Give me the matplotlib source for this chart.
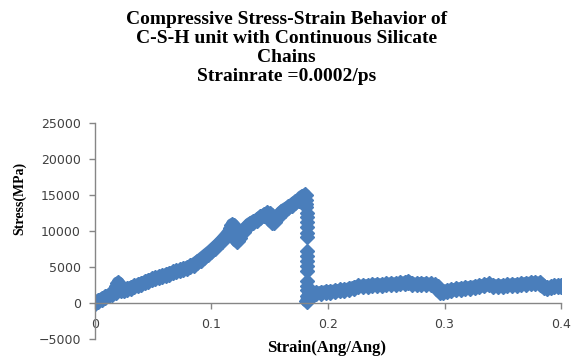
import matplotlib.pyplot as plt
import numpy as np

# rising branch before failure
pre_strain = [0.000, 0.003, 0.006, 0.009, 0.012, 0.015, 0.018, 0.019, 0.020, 0.021,
              0.022, 0.025, 0.028, 0.031, 0.034, 0.037, 0.040, 0.043, 0.046, 0.049,
              0.052, 0.055, 0.058, 0.061, 0.064, 0.067, 0.070, 0.073, 0.076, 0.079,
              0.082, 0.085, 0.088, 0.091, 0.094, 0.097, 0.100, 0.103, 0.106, 0.109,
              0.112, 0.115, 0.117, 0.118, 0.119, 0.1205, 0.122, 0.124, 0.127, 0.130,
              0.133, 0.136, 0.139, 0.142, 0.145, 0.148, 0.150, 0.152, 0.154, 0.157,
              0.160, 0.163, 0.166, 0.169, 0.172, 0.175, 0.178, 0.180]
pre_stress = [0, 300, 550, 800, 1050, 1250, 1500, 2300, 2800, 2400,
              1800, 1850, 2000, 2150, 2350, 2500, 2700, 2900, 3100, 3300,
              3450, 3600, 3750, 3900, 4100, 4250, 4400, 4550, 4700, 4900,
              5100, 5350, 5700, 6050, 6450, 6850, 7250, 7700, 8150, 8650,
              9200, 9800, 10400, 10900, 10700, 9000, 8600, 9100, 9900, 10500,
              11000, 11300, 11500, 11900, 12200, 12500, 12400, 11300, 11300, 12000,
              12600, 13000, 13300, 13600, 14000, 14300, 14800, 15000]

# points along the sudden drop
drop_strain = [0.181, 0.181, 0.181, 0.182, 0.182, 0.182, 0.182, 0.182, 0.182, 0.182,
               0.182, 0.182, 0.182, 0.182, 0.182, 0.182, 0.182]
drop_stress = [14300, 13800, 13300, 12450, 11900, 11200, 10500, 9800, 9120, 7300,
               6600, 5900, 5200, 4500, 3100, 2400, 1800]

# residual branch after failure
post_strain = [0.182, 0.183, 0.186, 0.190, 0.194, 0.198, 0.202, 0.206, 0.210, 0.214,
               0.218, 0.222, 0.226, 0.230, 0.234, 0.238, 0.242, 0.246, 0.250, 0.254,
               0.258, 0.262, 0.266, 0.269, 0.272, 0.276, 0.280, 0.284, 0.288, 0.292,
               0.294, 0.296, 0.299, 0.302, 0.306, 0.310, 0.314, 0.318, 0.322, 0.326,
               0.330, 0.334, 0.338, 0.342, 0.346, 0.350, 0.354, 0.358, 0.362, 0.366,
               0.370, 0.374, 0.378, 0.382, 0.385, 0.388, 0.391, 0.394, 0.397, 0.400,
               0.402]
post_stress = [300, 1000, 1300, 1350, 1450, 1550, 1600, 1650, 1750, 1800,
               1950, 2150, 2300, 2350, 2400, 2450, 2550, 2500, 2600, 2650,
               2650, 2750, 2800, 2950, 2650, 2600, 2700, 2650, 2600, 2500,
               2200, 1600, 1550, 1700, 1800, 1900, 2000, 2050, 2150, 2250,
               2350, 2450, 2600, 2400, 2350, 2400, 2450, 2500, 2550, 2600,
               2700, 2750, 2800, 2750, 2200, 2050, 2200, 2300, 2350, 2400,
               2300]

x_ticks = [0, 0.1, 0.2, 0.3, 0.4]
x_labels = ['0', '0.1', '0.2', '0.3', '0.4']
y_ticks = [-5000, 0, 5000, 10000, 15000, 20000, 25000]

blue = '#4a7ebb'
grey = '#868686'

fig = plt.figure(figsize=(5.82, 3.58), dpi=100)
ax = fig.add_axes([0.163, 0.053, 0.801, 0.603])

ax.plot(pre_strain, pre_stress, '-D', color=blue, lw=9.5, ms=8, solid_capstyle='round',
        solid_joinstyle='round')
ax.plot(drop_strain, drop_stress, 'D', color=blue, ms=7)
ax.plot(post_strain, post_stress, '-D', color=blue, lw=9.5, ms=8, solid_capstyle='round',
        solid_joinstyle='round')

ax.set_xlim(0, 0.4)
ax.set_ylim(-5000, 25000)
ax.set_xticks(x_ticks)
ax.set_xticklabels(x_labels)
ax.set_yticks(y_ticks)

ax.spines['top'].set_visible(False)
ax.spines['right'].set_visible(False)
ax.spines['bottom'].set_position(('data', 0))
for s in ['left', 'bottom']:
    ax.spines[s].set_color(grey)
    ax.spines[s].set_linewidth(1)
ax.tick_params(colors=grey, labelcolor='#404040', labelsize=9, length=4, width=1)
ax.tick_params(axis='x', pad=7)
ax.tick_params(axis='y', pad=6)

fig.text(0.492, 0.866, 'Compressive Stress-Strain Behavior of\nC-S-H unit with Continuous Silicate\nChains\nStrainrate =0.0002/ps',
         ha='center', va='center', family='Liberation Serif', weight='bold', fontsize=14,
         linespacing=1.14)
fig.text(0.033, 0.447, 'Stress(MPa)', rotation=90, ha='center', va='center',
         family='Liberation Serif', weight='bold', fontsize=10)
fig.text(0.561, 0.028, 'Strain(Ang/Ang)', ha='center', va='center',
         family='Liberation Serif', weight='bold', fontsize=12)

fig.savefig('out.png', dpi=100)
